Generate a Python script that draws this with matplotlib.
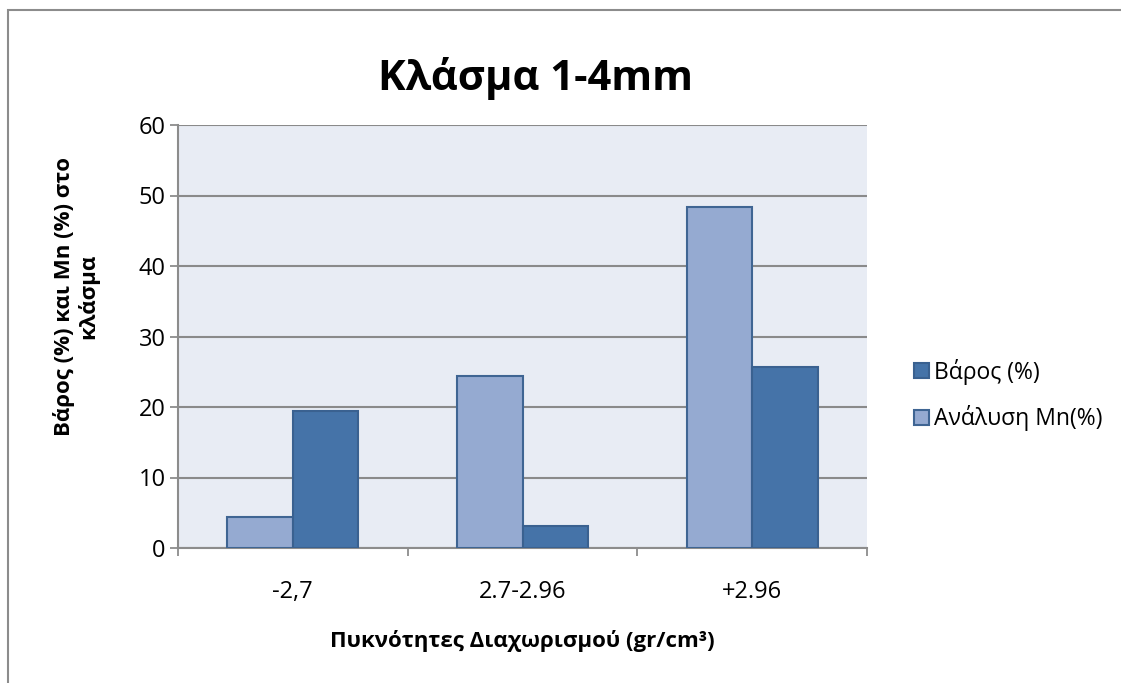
import numpy as np
import matplotlib.pyplot as plt
from matplotlib.patches import Rectangle

plt.rcParams['font.family'] = ['Open Sans', 'DejaVu Sans']

# δεδομένα
categories = ['-2,7', '2.7-2.96', '+2.96']
analysi_mn = [4.4, 24.4, 48.4]
varos = [19.5, 3.1, 25.7]

fig = plt.figure(figsize=(11.21, 6.83), dpi=100)
# περίγραμμα γραφήματος
fig.patches.append(Rectangle((8 / 1121, -0.1), 1.2, 1.1 - 10 / 683,
                             transform=fig.transFigure, fill=False,
                             edgecolor='#8c8c8c', linewidth=1.5))

ax = fig.add_axes([178 / 1121, 1 - 548 / 683, 689 / 1121, 423 / 683])
ax.set_facecolor('#e8ecf4')

x = np.arange(len(categories))
w = 1 / 3.5
ax.bar(x - w / 2, analysi_mn, w, color='#95aad1', edgecolor='#3f6593',
       linewidth=1.5, label='Ανάλυση Mn(%)', zorder=3)
ax.bar(x + w / 2, varos, w, color='#4573a8', edgecolor='#3a6190',
       linewidth=1.5, label='Βάρος (%)', zorder=3)

ax.set_xlim(-0.5, 2.5)
ax.set_ylim(0, 60)
ax.set_yticks(range(0, 61, 10))
ax.set_xticks([-0.5, 0.5, 1.5, 2.5], minor=False)
ax.set_xticklabels([])
ax.set_xticks(x, minor=True)
ax.set_xticklabels(categories, minor=True)
ax.tick_params(axis='x', which='minor', length=0, pad=23, labelsize=17)
ax.tick_params(axis='x', which='major', length=6, color='#8c8c8c', width=1.3)
ax.tick_params(axis='y', length=6, color='#8c8c8c', width=1.3, labelsize=17, pad=3)

ax.grid(axis='y', color='#8a8a8a', linewidth=1.5, zorder=0)
for s in ['top', 'right']:
    ax.spines[s].set_visible(False)
for s in ['left', 'bottom']:
    ax.spines[s].set_color('#8c8c8c')
    ax.spines[s].set_linewidth(1.5)

fig.text(536 / 1121, 1 - 79 / 683, 'Κλάσμα 1-4mm', ha='center', va='center',
         fontsize=30, fontweight='bold')
fig.text(76 / 1121, 1 - 296 / 683, 'Βάρος (%) και Mn (%) στο\nκλάσμα',
         ha='center', va='center', rotation=90, fontsize=16,
         fontweight='bold', linespacing=1.1)
fig.text(522 / 1121, 1 - 641 / 683, 'Πυκνότητες Διαχωρισμού (gr/cm³)',
         ha='center', va='center', fontsize=16, fontweight='bold')

h, l = ax.get_legend_handles_labels()
fig.legend(h[::-1], l[::-1], loc='center left',
           bbox_to_anchor=(893 / 1121, 1 - 395 / 683), frameon=False,
           fontsize=16.5, handlelength=0.65, handleheight=0.65,
           handletextpad=0.25, labelspacing=0.9)

fig.savefig('out.png', dpi=100)
